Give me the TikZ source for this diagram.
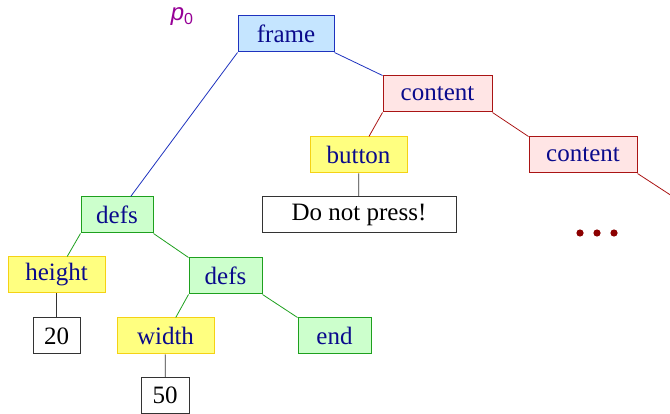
\documentclass[tikz,border=0pt]{standalone}
\usepackage{fontspec}
\setmainfont{Liberation Serif}
\setsansfont{Liberation Sans}
\definecolor{navytext}{RGB}{10,10,140}
\definecolor{frameFill}{RGB}{197,229,255}
\definecolor{frameDraw}{RGB}{30,50,190}
\definecolor{contentFill}{RGB}{255,229,229}
\definecolor{contentDraw}{RGB}{170,20,20}
\definecolor{tagFill}{RGB}{255,255,128}
\definecolor{tagDraw}{RGB}{245,210,20}
\definecolor{defsFill}{RGB}{204,255,204}
\definecolor{defsDraw}{RGB}{30,160,30}
\definecolor{dotRed}{RGB}{140,0,0}
\definecolor{labelPurple}{RGB}{150,0,150}
\begin{document}
\begin{tikzpicture}[x=1pt,y=-1pt,
  every node/.style={inner sep=0pt,font=\fontsize{25}{30}\selectfont},
  tbox/.style={draw,line width=1pt,minimum height=36pt,text=navytext},
  framebox/.style={tbox,fill=frameFill,draw=frameDraw},
  contentbox/.style={tbox,fill=contentFill,draw=contentDraw},
  tagbox/.style={tbox,fill=tagFill,draw=tagDraw},
  defsbox/.style={tbox,fill=defsFill,draw=defsDraw},
  valbox/.style={draw=black!80,line width=1pt,minimum height=36pt,fill=white,text=black},
  fedge/.style={draw=frameDraw,line width=0.8pt},
  cedge/.style={draw=contentDraw,line width=0.8pt},
  dedge/.style={draw=defsDraw,line width=0.8pt},
  vedge/.style={draw=black!80,line width=0.8pt}]
\useasboundingbox (0,0) rectangle (670,414);

% tree nodes
\node[framebox,minimum width=96pt] (frame) at (286,34) {frame};
\node[contentbox,minimum width=109pt] (content1) at (437.5,94) {content};
\node[tagbox,minimum width=97pt] (button) at (358.5,155) {button};
\node[contentbox,minimum width=108pt] (content2) at (583,155) {content};
\node[valbox,minimum width=194pt] (press) at (359,215) {Do not press!};
\node[defsbox,minimum width=72pt] (defs1) at (117,215) {defs};
\node[tagbox,minimum width=97pt] (height) at (56.5,275) {height};
\node[defsbox,minimum width=73pt] (defs2) at (225.5,276) {defs};
\node[valbox,minimum width=47pt] (v20) at (56.5,336) {20};
\node[tagbox,minimum width=97pt] (width) at (165.5,336) {width};
\node[defsbox,minimum width=73pt] (end) at (334.5,336) {end};
\node[valbox,minimum width=48pt] (v50) at (165,395.5) {50};
\coordinate (more) at (672,196);

% connectors
\draw[fedge] (frame.south west) -- (defs1);
\draw[fedge] (frame.south east) -- (content1.north west);
\draw[cedge] (content1.south west) -- (button);
\draw[cedge] (content1.south east) -- (content2.north west);
\draw[cedge] (content2.south east) -- (more);
\draw[vedge] (button) -- (press);
\draw[dedge] (defs1.south west) -- (height);
\draw[dedge] (defs1.south east) -- (defs2.north west);
\draw[dedge] (defs2.south west) -- (width);
\draw[dedge] (defs2.south east) -- (end.north west);
\draw[vedge] (height) -- (v20);
\draw[vedge] (width) -- (v50);

% ellipsis
\fill[dotRed] (580,233) circle (3.6pt) (597,233) circle (3.6pt) (614,233) circle (3.6pt);

% pointer label
\node[text=labelPurple,font=\fontsize{24}{28}\sffamily] (p0) at (182,17) {\textit{p}\raisebox{-0.3ex}{\fontsize{16}{19}\selectfont 0}};
\end{tikzpicture}
\end{document}
